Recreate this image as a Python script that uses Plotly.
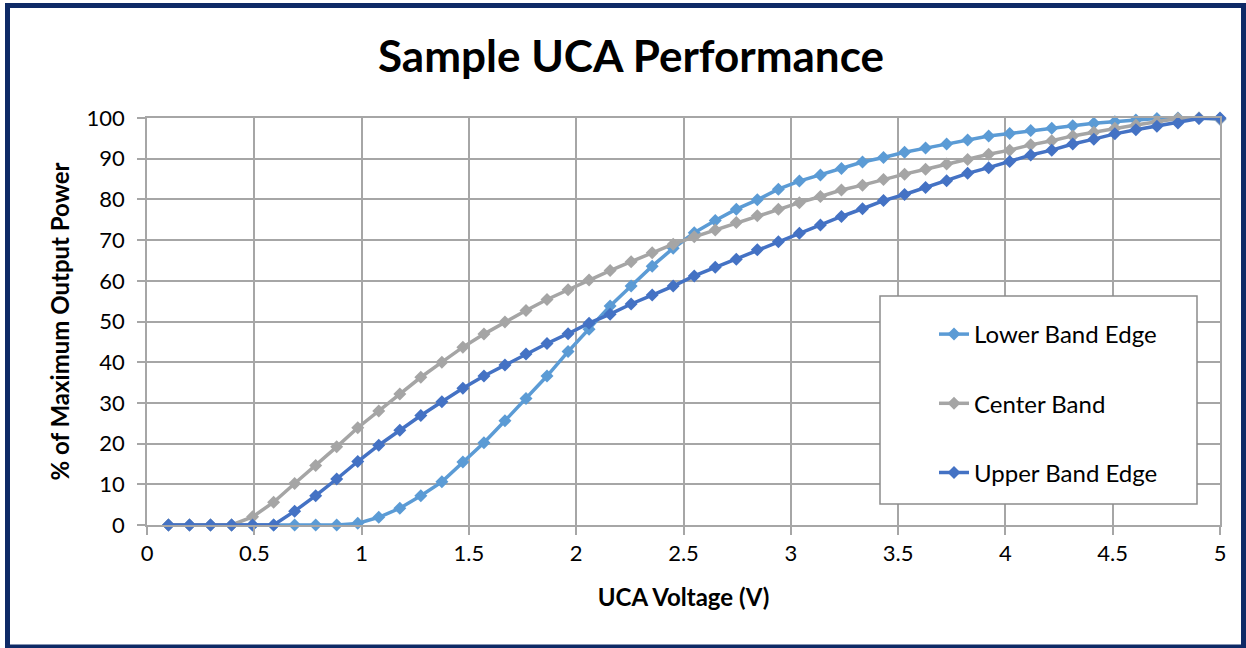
import plotly.graph_objects as go

# UCA voltage (V)
voltage = [0.100, 0.198, 0.296, 0.394, 0.492, 0.590, 0.688, 0.786, 0.884, 0.982,
           1.080, 1.178, 1.276, 1.374, 1.472, 1.570, 1.668, 1.766, 1.864, 1.962,
           2.060, 2.158, 2.256, 2.354, 2.452, 2.550, 2.648, 2.746, 2.844, 2.942,
           3.040, 3.138, 3.236, 3.334, 3.432, 3.530, 3.628, 3.726, 3.824, 3.922,
           4.020, 4.118, 4.216, 4.314, 4.412, 4.510, 4.608, 4.706, 4.804, 4.902,
           5.000]

lower_band_edge = [0, 0, 0, 0, 0, 0, 0, 0, 0, 0.4,
                   1.9, 4.1, 7.2, 10.6, 15.5, 20.2, 25.6, 31.1, 36.6, 42.6,
                   48.1, 53.8, 58.7, 63.6, 68.0, 71.8, 74.8, 77.6, 79.9, 82.5,
                   84.5, 86.0, 87.6, 89.2, 90.3, 91.6, 92.6, 93.6, 94.6, 95.6,
                   96.2, 96.9, 97.5, 98.1, 98.7, 99.1, 99.5, 99.9, 100, 100,
                   99.7]

center_band = [0, 0, 0, 0, 2.0, 5.6, 10.2, 14.6, 19.2, 23.9,
               28.0, 32.2, 36.3, 40.0, 43.7, 46.9, 49.9, 52.7, 55.4, 57.8,
               60.2, 62.5, 64.7, 66.9, 69.0, 70.8, 72.5, 74.3, 76.0, 77.6,
               79.2, 80.7, 82.3, 83.5, 84.9, 86.2, 87.4, 88.7, 89.8, 91.1,
               92.1, 93.4, 94.4, 95.6, 96.5, 97.5, 98.3, 99.1, 99.9, 100,
               99.8]

upper_band_edge = [0, 0, 0, 0, 0, 0, 3.4, 7.2, 11.3, 15.6,
                   19.6, 23.3, 26.9, 30.3, 33.6, 36.6, 39.3, 42.0, 44.6, 47.0,
                   49.6, 51.8, 54.3, 56.5, 58.7, 61.2, 63.3, 65.3, 67.6, 69.6,
                   71.7, 73.7, 75.8, 77.7, 79.7, 81.2, 82.9, 84.6, 86.4, 87.8,
                   89.3, 90.9, 92.1, 93.6, 94.8, 96.1, 97.1, 98.0, 98.8, 99.9,
                   100]

series_names = ["Lower Band Edge", "Center Band", "Upper Band Edge"]
series_values = [lower_band_edge, center_band, upper_band_edge]
series_colors = ["#5B9BD5", "#A5A5A5", "#4472C4"]

x_ticks = [0, 0.5, 1, 1.5, 2, 2.5, 3, 3.5, 4, 4.5, 5]
x_tick_labels = ["0", "0.5", "1", "1.5", "2", "2.5", "3", "3.5", "4", "4.5", "5"]
y_ticks = list(range(0, 101, 10))

FONT = "Lato, 'Open Sans', sans-serif"
GRID = "#A6A6A6"

fig = go.Figure()
for i, (name, vals, col) in enumerate(zip(series_names, series_values, series_colors)):
    fig.add_trace(go.Scatter(
        x=voltage, y=vals, name=name, mode="lines+markers",
        line=dict(color=col, width=3.5),
        marker=dict(symbol="diamond", size=10, color=col),
        cliponaxis=False, legendgroup=name,
    ))

# plot-area geometry (px)
L, R, T, B = 147, 1220, 118, 525
W, H = R - L, B - T

def px_x(p):
    return (p - L) / W

def px_y(p):
    return (B - p) / H

shapes = [
    # legend box
    dict(type="rect", xref="paper", yref="paper",
         x0=px_x(880), x1=px_x(1197), y0=px_y(504), y1=px_y(296),
         fillcolor="white", line=dict(color="#8C8C8C", width=1.5), layer="above"),
    # outer chart border
    dict(type="rect", xref="paper", yref="paper",
         x0=px_x(7.5), x1=px_x(1243.5), y0=px_y(647), y1=px_y(5.5),
         fillcolor="rgba(0,0,0,0)", line=dict(color="#0E2A66", width=5), layer="above"),
]

fig.update_layout(
    width=1246, height=648,
    margin=dict(l=L, r=1246 - R, t=T, b=648 - B),
    paper_bgcolor="white", plot_bgcolor="white",
    font=dict(family=FONT, color="black"),
    title=dict(text="<b>Sample UCA Performance</b>", x=631 / 1246, xref="container",
               xanchor="center", y=1 - 57 / 648, yanchor="middle",
               font=dict(size=44, family=FONT, color="black")),
    xaxis=dict(range=[0, 5], tickvals=x_ticks, ticktext=x_tick_labels,
               showgrid=True, gridcolor=GRID, gridwidth=1.5,
               showline=True, linecolor=GRID, linewidth=1.5, mirror=True,
               ticks="outside", ticklen=8, tickcolor=GRID, tickwidth=1.5,
               tickfont=dict(size=22, family=FONT), zeroline=False,
               title=dict(text="<b>UCA Voltage (V)</b>", font=dict(size=24, family=FONT), standoff=24)),
    yaxis=dict(range=[0, 100], tickvals=y_ticks,
               showgrid=True, gridcolor=GRID, gridwidth=1.5,
               showline=True, linecolor=GRID, linewidth=1.5, mirror=True,
               ticks="outside", ticklen=8, tickcolor=GRID, tickwidth=1.5,
               ticklabelstandoff=8,
               tickfont=dict(size=22, family=FONT), zeroline=False,
               title=dict(text="<b>% of Maximum Output Power</b>", font=dict(size=24, family=FONT), standoff=10)),
    legend=dict(x=px_x(934), y=px_y(312), xanchor="left", yanchor="top",
                bgcolor="rgba(0,0,0,0)", borderwidth=0,
                font=dict(size=24, family=FONT, color="black"),
                traceorder="grouped", tracegroupgap=35),
    shapes=shapes,
)

fig.write_html("out.html", config={"displayModeBar": False},
               post_script="document.body.style.margin='0';document.body.style.overflow='hidden';")
